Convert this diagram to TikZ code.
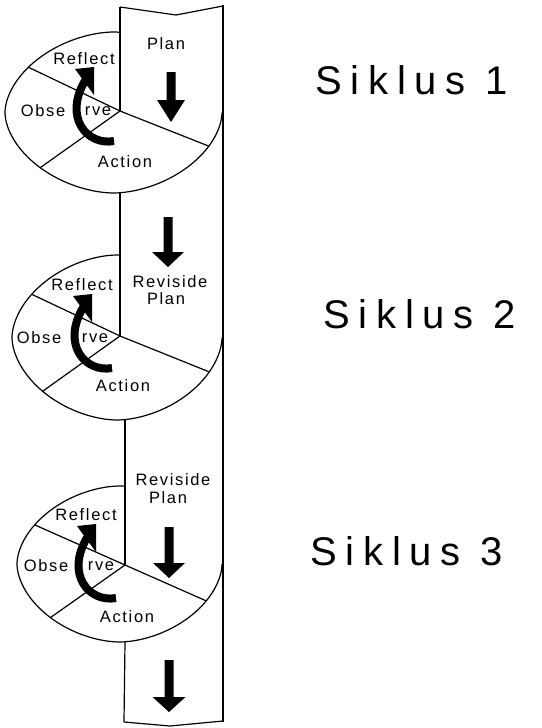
\documentclass[tikz,border=0pt]{standalone}
\usepackage{fontspec}
\setmainfont{Liberation Sans}
\newfontfamily\labfont[LetterSpace=10]{Liberation Sans}
\newfontfamily\sikfont[LetterSpace=22]{Liberation Sans}
\usetikzlibrary{intersections,calc}
\pgfmathdeclarefunction{spow}{1}{\pgfmathparse{(#1<0?-1:1)*abs(#1)^1.111}}
\tikzset{
  edge/.style={line width=1.2pt, line join=round},
  rightedge/.style={line width=2.6pt},
  lab/.style={font=\labfont\fontsize{16.5}{18}\selectfont, inner sep=0pt},
  sik/.style={font=\sikfont\fontsize{40}{42}\selectfont, inner sep=0pt, anchor=base west},
  curvebody/.style={line width=8pt, line cap=butt},
}
\newcommand\dnarrow[5]{\fill ({#1-4.5},#2) -- ({#1+4.5},#2) -- ({#1+4.5},#3) -- ({#1+#5},#3) -- (#1,#4) -- ({#1-#5},#3) -- ({#1-4.5},#3) -- cycle;}
\newcommand\cyclearrow[2]{%
  \begin{scope}[shift={(#1,#2)}]
    \fill (75,69) -- (94,67) -- (94,95) -- cycle;
    \draw[curvebody] (114,141) .. controls (88,146) and (62,118) .. (86,79);
  \end{scope}}
\begin{document}
\begin{tikzpicture}[x=1pt,y=-1pt]
\useasboundingbox[fill=white] (0,0) rectangle (541,728);

% ---------- cycle 1 ----------
\coordinate (M1) at (120,111);
\begin{scope}[even odd rule]
  \clip (0,0) rectangle (541,728) (120,0) rectangle (230,112.5);
  \draw[edge, name path global=E1] plot[domain=0.5:360.5,samples=181,variable=\t]
    ({113.5+108.5*spow(cos(\t))},{112.5+80.5*spow(sin(\t))});
\end{scope}
\path[name path=R1a] (M1) -- ($(M1)!5!(30,68)$);
\path[name path=R1b] (M1) -- ($(M1)!5!(44,165)$);
\path[name path=R1c] (M1) -- ($(M1)!5!(211,147)$);
\draw[edge, name intersections={of=E1 and R1a, by=U1}] (M1) -- (U1);
\draw[edge, name intersections={of=E1 and R1b, by=L1}] (M1) -- (L1);
\draw[edge, name intersections={of=E1 and R1c, by=D1}] (M1) -- (D1);

% ---------- cycle 2 ----------
\coordinate (M2) at (120,336);
\begin{scope}[even odd rule]
  \clip (0,0) rectangle (541,728) (120,200) rectangle (230,337.5);
  \draw[edge, name path global=E2] plot[domain=0.5:360.5,samples=181,variable=\t]
    ({117+105*spow(cos(\t))},{337.5+82.5*spow(sin(\t))});
\end{scope}
\path[name path=R2a] (M2) -- ($(M2)!5!(29,293)$);
\path[name path=R2b] (M2) -- ($(M2)!5!(43,391)$);
\path[name path=R2c] (M2) -- ($(M2)!5!(212,373)$);
\draw[edge, name intersections={of=E2 and R2a, by=U2}] (M2) -- (U2);
\draw[edge, name intersections={of=E2 and R2b, by=L2}] (M2) -- (L2);
\draw[edge, name intersections={of=E2 and R2c, by=D2}] (M2) -- (D2);

% ---------- cycle 3 ----------
\coordinate (M3) at (125,565);
\begin{scope}[even odd rule]
  \clip (0,0) rectangle (541,728) (125,440) rectangle (230,564);
  \draw[edge, name path global=E3] plot[domain=0.5:360.5,samples=181,variable=\t]
    ({119.5+102.5*spow(cos(\t))},{564+78*spow(sin(\t))});
\end{scope}
\path[name path=R3a] (M3) -- ($(M3)!5!(35,525)$);
\path[name path=R3b] (M3) -- ($(M3)!5!(47,620)$);
\path[name path=R3c] (M3) -- ($(M3)!5!(211,603)$);
\draw[edge, name intersections={of=E3 and R3a, by=U3}] (M3) -- (U3);
\draw[edge, name intersections={of=E3 and R3b, by=L3}] (M3) -- (L3);
\draw[edge, name intersections={of=E3 and R3c, by=D3}] (M3) -- (D3);

% ---------- strip ----------
\coordinate (TL) at (120,7);
\coordinate (TV) at (176,15);
\coordinate (TR) at (223,6);
\coordinate (BL) at (124,722);
\coordinate (BV) at (170,726);
\coordinate (BR) at (223,721);
\coordinate (S2) at (120,193);
\coordinate (S3) at (125,419.5);
\coordinate (S4) at (125,642);
\draw[edge] (TL) -- (M1);
\draw[edge] (S2) -- (M2);
\draw[edge] (S3) -- (M3);
\draw[edge] (S4) -- (BL);
\draw[edge] (TL) -- (TV) -- (TR);
\draw[edge] (BL) -- (BV) -- (BR);
\draw[rightedge] (223,5.2) -- (223,722.3);

% ---------- block arrows ----------
\dnarrow{171}{72}{100}{122}{14}
\dnarrow{168}{217}{252}{267}{16}
\dnarrow{169}{527}{563}{578}{16}
\dnarrow{169}{660}{697}{712}{16.5}

% ---------- labels ----------
\node[lab] (p1) at (166,44) {Plan};
\node[lab] (r1) at (84,59) {Reflect};
\node[lab] (o1) at (43,111) {Obse};
\node[lab] (v1) at (98,111) {rve};
\node[lab] (a1) at (125,162) {Action};

\node[lab] (rv2) at (170,281.5) {Reviside};
\node[lab] (p2) at (166,298.5) {Plan};
\node[lab] (r2) at (82,285) {Reflect};
\node[lab] (o2) at (39,338) {Obse};
\node[lab] (v2) at (95,338) {rve};
\node[lab] (a2) at (123,386) {Action};

\node[lab] (rv3) at (173,480) {Reviside};
\node[lab] (p3) at (168,498) {Plan};
\node[lab] (r3) at (86,515) {Reflect};
\node[lab] (o3) at (46,566) {Obse};
\node[lab] (v3) at (101,566) {rve};
\node[lab] (a3) at (127,617) {Action};

% ---------- curved arrows ----------
\cyclearrow{0}{0}
\cyclearrow{-2}{227}
\cyclearrow{2}{457}

% ---------- cycle titles ----------
\node[sik] (s1) at (315,94) {Siklus 1};
\node[sik] (s2) at (323,328) {Siklus 2};
\node[sik] (s3) at (310,565) {Siklus 3};
\end{tikzpicture}
\end{document}
